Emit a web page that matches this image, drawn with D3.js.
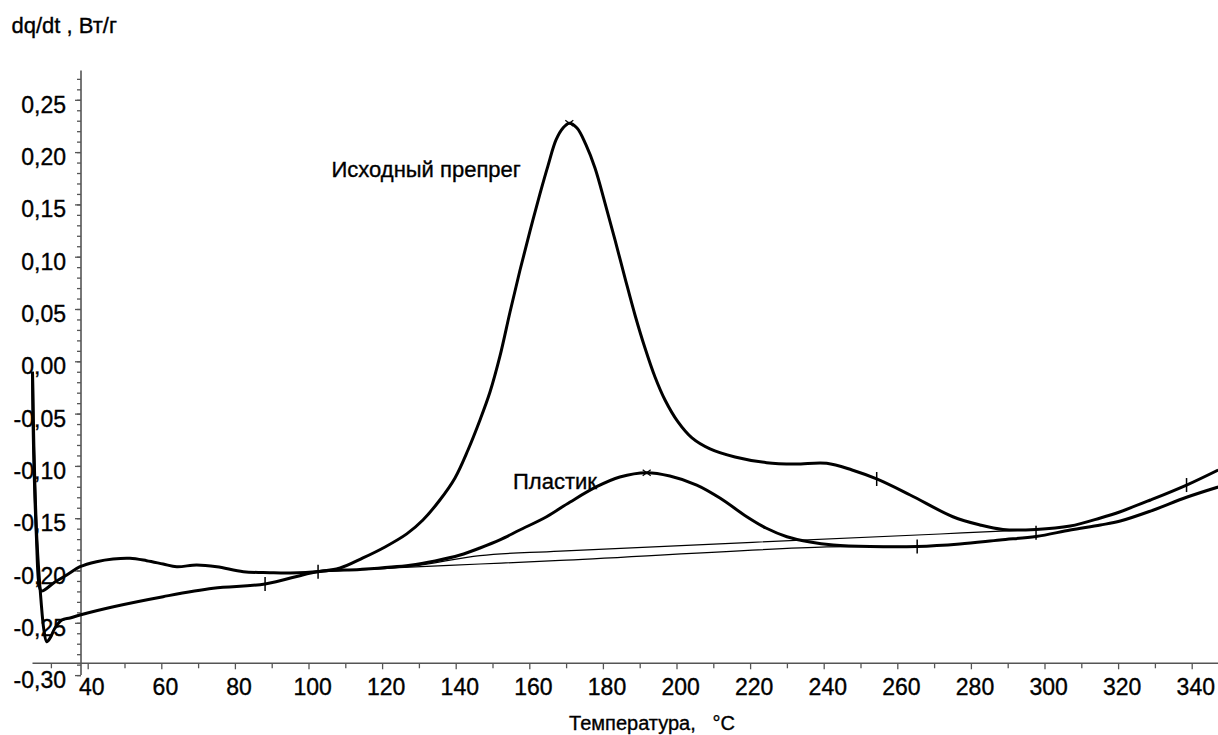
<!DOCTYPE html>
<html><head><meta charset="utf-8">
<script src="https://cdn.jsdelivr.net/npm/d3@7"></script>
<style>
body{margin:0;background:#fff}
svg{display:block}
text{font-family:"Liberation Sans",Arial,Helvetica,sans-serif;fill:#000;stroke:#000;stroke-width:0.35px}
</style>
</head><body>
<svg id="chart" width="1218" height="735"></svg>
<script>
// ---- data (temperature °C, heat flow W/g) ----
const prepregT = [25.0,25.3,26.1,26.8,27.45,31.1,34.3,37.9,42.4,46.9,51.5,56.0,60.5,64.2,69.6,75.1,82.3,89.5,95.0,102.6,108.6,114.8,120.8,126.7,131.1,135.7,139.81,143.34,146.60,149.32,152.04,154.76,157.48,160.20,162.91,165.09,167.26,169.16,170.87,172.96,175.41,177.85,180.57,183.29,186.01,188.72,191.44,194.16,196.88,200.41,204.21,209.11,215.90,224.5,232.2,240.8,247.7,254.4,263.5,275.1,282.5,288.7,297.7,307.0,315.2,320.6,328.8,338.6,347.2];
const prepregV = [-0.010,-0.085,-0.171,-0.214,-0.2196,-0.211,-0.2043,-0.1964,-0.1916,-0.189,-0.1883,-0.1906,-0.1938,-0.1964,-0.1947,-0.1964,-0.2011,-0.2021,-0.2024,-0.201,-0.1976,-0.1880,-0.1775,-0.1650,-0.1517,-0.1326,-0.1115,-0.0848,-0.0561,-0.0294,0.0051,0.0471,0.0873,0.1246,0.1603,0.1871,0.2116,0.2230,0.2275,0.2230,0.2068,0.1848,0.1513,0.1160,0.0796,0.0443,0.0127,-0.0150,-0.0370,-0.0580,-0.0733,-0.0838,-0.0915,-0.0969,-0.0982,-0.0975,-0.1039,-0.1125,-0.1278,-0.1486,-0.1565,-0.1608,-0.1608,-0.1575,-0.1498,-0.1438,-0.1326,-0.1183,-0.1039];

const plasticT = [25.0,25.4,26.2,27.3,28.1,28.86,29.8,31.1,33.0,35.2,37.9,47.0,60.5,74.1,88.2,102.6,114.0,127.6,134.4,141.2,146.6,152.0,157.4,164.7,171.1,178.3,184.6,191.9,198.2,205.5,211.8,219.1,224.3,230.0,236.3,242.6,252.6,265.4,277.0,287.9,297.7,307.0,315.2,320.6,328.8,338.6,347.2];
const plasticV = [-0.010,-0.085,-0.171,-0.228,-0.2569,-0.2681,-0.2645,-0.255,-0.2473,-0.2454,-0.2425,-0.2346,-0.225,-0.217,-0.2129,-0.2011,-0.1990,-0.1950,-0.1909,-0.1852,-0.1785,-0.1708,-0.1613,-0.1486,-0.1345,-0.1199,-0.1106,-0.1065,-0.1097,-0.1183,-0.1307,-0.1486,-0.1594,-0.1677,-0.1728,-0.1756,-0.1771,-0.1771,-0.1747,-0.1708,-0.1675,-0.1613,-0.1565,-0.1527,-0.1432,-0.1300,-0.1202];

const baseUpperT = [102.6,127.6,146.6,168.4,271.6,297.7];
const baseUpperV = [-0.2011,-0.1962,-0.1857,-0.1814,-0.1651,-0.1608];
const baseLowerT = [102.6,127.6,146.6,168.4,240.8,265.4];
const baseLowerV = [-0.2011,-0.1967,-0.1938,-0.1904,-0.1775,-0.1771];

const peakT = [170.87,191.9];
const peakV = [0.2275,-0.1065];
const markT = [88.2,102.6,254.4,265.4,297.7,338.6];
const markV = [-0.2129,-0.2011,-0.1125,-0.1771,-0.1640,-0.1183];

const xMajorTicks = [40,60,80,100,120,140,160,180,200,220,240,260,280,300,320,340];
const xMinorTicks = [30,50,70,90,110,130,150,170,190,210,230,250,270,290,310,330];
const yMajorTicks = [-0.30,-0.25,-0.20,-0.15,-0.10,-0.05,0.00,0.05,0.10,0.15,0.20,0.25];
const yMinorTicks = d3.range(-30,28).map(i=>i/100);

const labelPrepreg = "Исходный препрег";
const labelPlastic = "Пластик";
const xTitle = "Температура,   °C";
const yTitle = "dq/dt , Вт/г";

// ---- layout ----
const svg = d3.select("#chart");
const x = d3.scaleLinear().domain([40,340]).range([87.7,1191.7]);
const y = d3.scaleLinear().domain([-0.30,0.25]).range([675.1,99.8]);
const yAxisAtT = 38.18;
const xAxisAtV = -0.2887;
const axisColor = "#555";
const fmt = v => (Math.abs(v)<1e-9?0:v).toFixed(2).replace(".",",");

// x axis
const gx = svg.append("g").attr("transform",`translate(0,${y(xAxisAtV)})`);
gx.call(d3.axisBottom(x).tickValues(xMinorTicks).tickSize(5).tickFormat(""))
  .call(g=>g.select(".domain").remove());
const gx2 = svg.append("g").attr("transform",`translate(0,${y(xAxisAtV)})`);
gx2.call(d3.axisBottom(x).tickValues(xMajorTicks).tickSize(6).tickFormat(d=>String(d)))
  .call(g=>g.select(".domain").remove());
gx2.selectAll("text").attr("y",32).attr("dy",0).attr("dx",3.6)
  .style("font-size","23px").style("font-family",'"Liberation Sans",Arial,sans-serif').attr("fill","#000");
svg.append("line").attr("x1",32.5).attr("x2",1218)
  .attr("y1",y(xAxisAtV)).attr("y2",y(xAxisAtV))
  .attr("stroke",axisColor).attr("stroke-width",1.6);

// y axis
const gy = svg.append("g").attr("transform",`translate(${x(yAxisAtT)},0)`);
gy.call(d3.axisLeft(y).tickValues(yMinorTicks).tickSize(4).tickFormat(""))
  .call(g=>g.select(".domain").remove());
const gy2 = svg.append("g").attr("transform",`translate(${x(yAxisAtT)},0)`);
gy2.call(d3.axisLeft(y).tickValues(yMajorTicks).tickSize(6).tickFormat(fmt))
  .call(g=>g.select(".domain").remove());
gy2.selectAll("text").attr("x",-15).attr("dy",0).attr("y",12.5)
  .style("font-size","23px").style("font-family",'"Liberation Sans",Arial,sans-serif').attr("fill","#000");
svg.selectAll("g .tick line").attr("stroke",axisColor).attr("stroke-width",1.3);
svg.append("line").attr("x1",x(yAxisAtT)).attr("x2",x(yAxisAtT))
  .attr("y1",y(0.278)).attr("y2",y(-0.30))
  .attr("stroke",axisColor).attr("stroke-width",1.6);

// curves
const line = d3.line().x(d=>x(d[0])).y(d=>y(d[1])).curve(d3.curveCatmullRom.alpha(0.5));
const zip = (a,b)=>a.map((t,i)=>[t,b[i]]);
svg.append("path").datum(zip(baseUpperT,baseUpperV)).attr("d",line)
  .attr("fill","none").attr("stroke","#000").attr("stroke-width",1.2);
svg.append("path").datum(zip(baseLowerT,baseLowerV)).attr("d",line)
  .attr("fill","none").attr("stroke","#000").attr("stroke-width",1.2);
svg.append("path").datum(zip(plasticT,plasticV)).attr("d",line)
  .attr("fill","none").attr("stroke","#000").attr("stroke-width",3).attr("stroke-linejoin","round");
svg.append("path").datum(zip(prepregT,prepregV)).attr("d",line)
  .attr("fill","none").attr("stroke","#000").attr("stroke-width",3).attr("stroke-linejoin","round");

// markers
svg.selectAll(".mk").data(zip(markT,markV)).join("line").attr("class","mk")
  .attr("x1",d=>x(d[0])).attr("x2",d=>x(d[0]))
  .attr("y1",d=>y(d[1])-7).attr("y2",d=>y(d[1])+7)
  .attr("stroke","#000").attr("stroke-width",1.5);
const pk = svg.selectAll(".pk").data(zip(peakT,peakV)).join("g").attr("class","pk")
  .attr("transform",d=>`translate(${x(d[0])},${y(d[1])})`);
pk.append("line").attr("x1",-4).attr("x2",4).attr("y1",-3).attr("y2",3).attr("stroke","#000").attr("stroke-width",1.2);
pk.append("line").attr("x1",-4).attr("x2",4).attr("y1",3).attr("y2",-3).attr("stroke","#000").attr("stroke-width",1.2);

// texts
svg.append("text").attr("x",331.5).attr("y",177).style("font-size","22px").text(labelPrepreg);
svg.append("text").attr("x",513).attr("y",488.5).style("font-size","22px").text(labelPlastic);
svg.append("text").attr("x",652).attr("y",730).attr("text-anchor","middle").style("font-size","20px").style("white-space","pre").text(xTitle);
svg.append("text").attr("x",11.5).attr("y",33).style("font-size","22px").style("white-space","pre").text(yTitle);
</script>
</body></html>
